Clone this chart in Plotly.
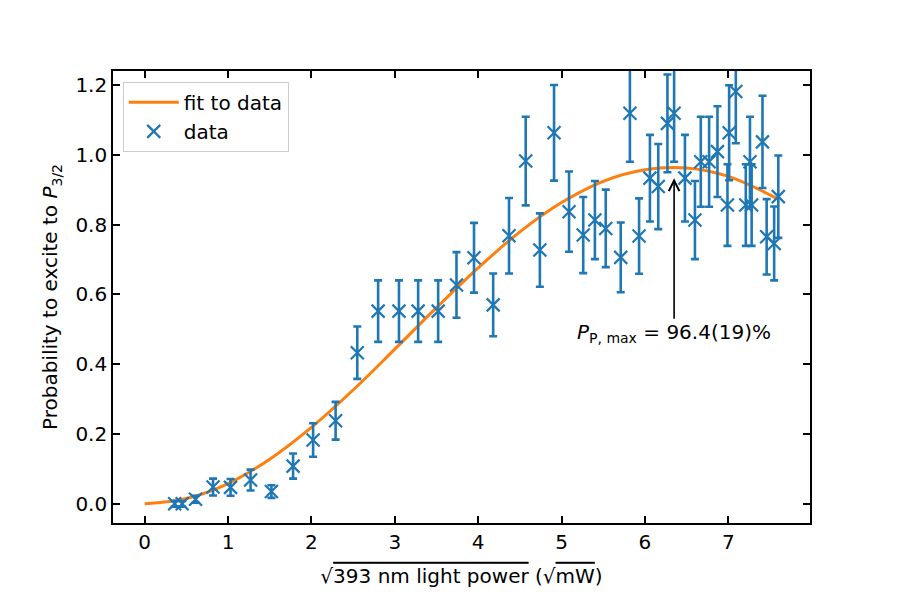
import plotly.graph_objects as go

# measured data (sqrt power, probability, error)
x_data = [0.36, 0.45, 0.61, 0.82, 1.03, 1.27, 1.52, 1.78, 2.02, 2.29,
          2.55, 2.80, 3.05, 3.28, 3.52, 3.74, 3.95, 4.18, 4.37, 4.57,
          4.74, 4.91, 5.09, 5.26, 5.40, 5.53, 5.71, 5.82, 5.93, 6.06,
          6.16, 6.27, 6.35, 6.48, 6.60, 6.67, 6.77, 6.87, 6.99, 7.01,
          7.09, 7.21, 7.26, 7.28, 7.41, 7.46, 7.55, 7.60]
y_data = [0.000, 0.000, 0.013, 0.048, 0.047, 0.068, 0.035, 0.108, 0.183, 0.238,
          0.433, 0.552, 0.552, 0.552, 0.552, 0.627, 0.705, 0.570, 0.768, 0.982,
          0.727, 1.063, 0.837, 0.770, 0.813, 0.789, 0.706, 1.119, 0.767, 0.933,
          0.909, 1.090, 1.119, 0.933, 0.813, 0.980, 0.980, 1.009, 0.856, 1.063,
          1.181, 0.856, 0.980, 0.856, 1.037, 0.765, 0.746, 0.880]
y_err = [0.008, 0.008, 0.010, 0.024, 0.024, 0.030, 0.018, 0.036, 0.048, 0.054,
         0.075, 0.088, 0.088, 0.088, 0.088, 0.094, 0.100, 0.090, 0.108, 0.127,
         0.105, 0.137, 0.115, 0.109, 0.112, 0.111, 0.100, 0.139, 0.108, 0.124,
         0.122, 0.140, 0.139, 0.124, 0.112, 0.129, 0.129, 0.130, 0.117, 0.136,
         0.148, 0.117, 0.129, 0.117, 0.132, 0.108, 0.106, 0.118]

# fit curve
x_fit = [0.0, 0.5, 1.0, 1.5, 2.0, 2.5, 3.0, 3.5, 4.0, 4.5, 5.0, 5.5, 6.0, 6.5, 7.0, 7.5, 7.6]
y_fit = [0.000, 0.015, 0.058, 0.128, 0.219, 0.326, 0.443, 0.562, 0.676, 0.779,
         0.863, 0.924, 0.957, 0.962, 0.938, 0.885, 0.872]

x_ticks = [0, 1, 2, 3, 4, 5, 6, 7]
y_ticks = [0.0, 0.2, 0.4, 0.6, 0.8, 1.0, 1.2]

peak_x, peak_y = 6.35, 0.933
label_y = 0.489

FONT = "DejaVu Sans"
BLUE = "#1f77b4"
ORANGE = "#ff7f0e"
FS = 20

fig = go.Figure()
fig.add_trace(go.Scatter(
    x=x_fit, y=y_fit, mode="lines", name="fit to data",
    line=dict(color=ORANGE, width=3, shape="spline"),
))
fig.add_trace(go.Scatter(
    x=x_data, y=y_data, mode="markers", name="data",
    marker=dict(symbol="x-thin-open", size=13, color=BLUE,
                line=dict(color=BLUE, width=2.2)),
    error_y=dict(type="data", array=y_err, color=BLUE, thickness=2.6, width=4),
))

axis_common = dict(
    showline=True, linecolor="black", linewidth=1.6, mirror="allticks",
    ticks="inside", ticklen=7, tickwidth=1.6, tickcolor="black",
    showgrid=False, zeroline=False,
    tickfont=dict(family=FONT, size=FS, color="black"),
)

fig.update_layout(
    width=900, height=600,
    margin=dict(l=113, r=90, t=71, b=77),
    plot_bgcolor="white", paper_bgcolor="white",
    font=dict(family=FONT, size=FS, color="black"),
    xaxis=dict(range=[-0.38, 7.98], tickvals=x_ticks,
               title=dict(text="√<span style='text-decoration:overline'>393 nm light power</span> (√<span style='text-decoration:overline'>mW</span>)",
                          font=dict(family=FONT, size=FS), standoff=16),
               **axis_common),
    yaxis=dict(range=[-0.055, 1.24], tickvals=y_ticks, tickformat=".1f",
               title=dict(text="Probability to excite to <i>P</i><sub>3/2</sub>",
                          font=dict(family=FONT, size=FS), standoff=12),
               **axis_common),
    legend=dict(x=0.014, y=0.976, xanchor="left", yanchor="top",
                bordercolor="#cccccc", borderwidth=1, bgcolor="rgba(255,255,255,0.8)",
                font=dict(family=FONT, size=FS), traceorder="normal",
                itemwidth=50),
    annotations=[dict(
        x=peak_x, y=peak_y, xref="x", yref="y",
        ax=peak_x, ay=label_y, axref="x", ayref="y",
        text="<i>P</i><sub>P, max</sub> = 96.4(19)%",
        showarrow=True, arrowhead=5, arrowsize=1.3, arrowwidth=1.6, arrowcolor="black",
        font=dict(family=FONT, size=FS, color="black"),
    )],
)

fig.write_html("out.html")
